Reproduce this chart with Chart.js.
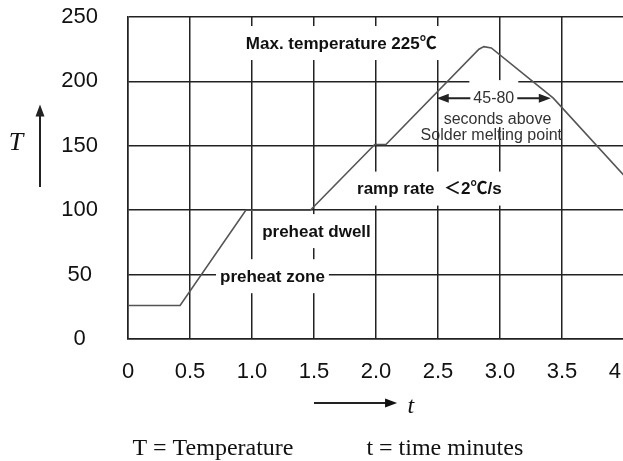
<!DOCTYPE html>
<html>
<head>
<meta charset="utf-8">
<script src="https://cdn.jsdelivr.net/npm/chart.js@4"></script>
<style>
  html, body { margin: 0; padding: 0; background: #fff; overflow: hidden; }
  #wrap { position: relative; width: 623px; height: 461px; overflow: hidden; }
  canvas { display: block; }
</style>
</head>
<body>
<div id="wrap"><canvas id="myChart" width="660" height="461"></canvas></div>
<script>
// reflow profile, values (t in minutes, T in degrees C)
const times = [0, 0.42, 0.95, 1.47, 1.99, 2.08, 2.83, 2.87, 2.93, 3.43, 4.0];
const temps = [26, 26, 100, 100, 151, 151, 225, 227, 226, 187, 127];

const xTickValues = [0, 0.5, 1, 1.5, 2, 2.5, 3, 3.5, 4];
const xTickLabels = ['0', '0.5', '1.0', '1.5', '2.0', '2.5', '3.0', '3.5', '4.0'];
const yTickValues = [0, 50, 100, 150, 200, 250];
const yTickLabels = ['0', '50', '100', '150', '200', '250'];

// notes inside the plot, anchored at (t, T)
const notes = [
  { text: 'Max. temperature 225℃', t: 1.72, T: 229, bold: true },
  { text: 'preheat dwell', t: 1.52, T: 83, bold: true },
  { text: 'preheat zone', t: 1.165, T: 48, bold: true },
  { text: 'ramp rate  ＜2℃/s', t: 2.43, T: 116, bold: true },
  { text: '45-80', t: 2.95, T: 187, boxed: true },
  { text: 'seconds above', t: 2.98, T: 170 },
  { text: 'Solder melting point', t: 2.93, T: 158 }
];
const holdFrom = 2.49, holdTo = 3.41, holdT = 187;   // 45-80 s arrow

const SANS = '"Liberation Sans", Arial, "Noto Sans CJK SC", sans-serif';
const SERIF = '"Liberation Serif", "Times New Roman", serif';

function arrowHead(ctx, x, y, dx, dy) {
  // filled head pointing along (dx, dy)
  const len = 12, half = 4.5;
  ctx.beginPath();
  ctx.moveTo(x, y);
  ctx.lineTo(x - dx * len - dy * half, y - dy * len + dx * half);
  ctx.lineTo(x - dx * len + dy * half, y - dy * len - dx * half);
  ctx.closePath();
  ctx.fill();
}

function noteFont(n) {
  return n.bold ? 'bold 17px ' + SANS : '16px ' + SANS;
}

const overlay = {
  id: 'overlay',
  beforeDatasetsDraw(chart) {
    // white patches behind the labels, they cut the grid
    const { ctx, scales: { x, y } } = chart;
    ctx.save();
    ctx.fillStyle = '#fff';
    notes.forEach(n => {
      if (!n.bold && !n.boxed) return;
      ctx.font = noteFont(n);
      const w = ctx.measureText(n.text).width;
      const cx = x.getPixelForValue(n.t), cy = y.getPixelForValue(n.T);
      const below = n.boxed ? 29 : 16;
      ctx.fillRect(cx - w / 2 - 4, cy - 18, w + 8, 18 + below);
    });
    ctx.restore();
  },
  afterDatasetsDraw(chart) {
    const { ctx, scales: { x, y }, chartArea } = chart;
    ctx.save();
    ctx.textAlign = 'center';
    ctx.textBaseline = 'middle';
    notes.forEach(n => {
      ctx.font = noteFont(n);
      ctx.fillStyle = n.bold ? '#111' : '#333';
      ctx.fillText(n.text, x.getPixelForValue(n.t), y.getPixelForValue(n.T));
    });

    // 45-80 arrows
    ctx.strokeStyle = '#222';
    ctx.fillStyle = '#222';
    ctx.lineWidth = 2;
    ctx.font = '16px ' + SANS;
    const mid = notes.find(n => n.text === '45-80');
    const half = ctx.measureText(mid.text).width / 2 + 3;
    const cx = x.getPixelForValue(mid.t), hy = y.getPixelForValue(holdT);
    const xl = x.getPixelForValue(holdFrom), xr = x.getPixelForValue(holdTo);
    ctx.beginPath();
    ctx.moveTo(cx - half, hy); ctx.lineTo(xl + 6, hy);
    ctx.moveTo(cx + half, hy); ctx.lineTo(xr - 6, hy);
    ctx.stroke();
    arrowHead(ctx, xl, hy, -1, 0);
    arrowHead(ctx, xr, hy, 1, 0);

    // T axis arrow and letter
    const ay0 = y.getPixelForValue(118), ay1 = y.getPixelForValue(182);
    ctx.beginPath();
    ctx.moveTo(40, ay0); ctx.lineTo(40, ay1 + 8);
    ctx.stroke();
    arrowHead(ctx, 40, ay1, 0, -1);
    ctx.font = 'italic 26px ' + SERIF;
    ctx.fillStyle = '#111';
    ctx.fillText('T', 16, y.getPixelForValue(152));

    // t axis arrow and letter
    const by = chartArea.bottom + 64;
    const bx0 = x.getPixelForValue(1.5), bx1 = x.getPixelForValue(2.17);
    ctx.beginPath();
    ctx.moveTo(bx0, by); ctx.lineTo(bx1 - 8, by);
    ctx.stroke();
    arrowHead(ctx, bx1, by, 1, 0);
    ctx.font = 'italic 24px ' + SERIF;
    ctx.textBaseline = 'alphabetic';
    ctx.fillText('t', x.getPixelForValue(2.28), by + 10);

    // legend line under the chart
    ctx.font = '24px ' + SERIF;
    ctx.fillText('T = Temperature', x.getPixelForValue(0.685), chart.height - 6);
    ctx.fillText('t = time minutes', x.getPixelForValue(2.555), chart.height - 6);
    ctx.restore();
  }
};

const ctx = document.getElementById('myChart').getContext('2d');
const myChart = new Chart(ctx, {
  type: 'scatter',
  data: {
    datasets: [{
      data: times.map((t, i) => ({ x: t, y: temps[i] })),
      showLine: true,
      borderColor: '#555',
      borderWidth: 1.6,
      pointRadius: 0,
      tension: 0
    }]
  },
  options: {
    responsive: false,
    animation: false,
    layout: { padding: { top: 17, right: 36, left: 0, bottom: 0 } },
    plugins: { legend: { display: false }, tooltip: { enabled: false } },
    scales: {
      x: {
        type: 'linear',
        min: 0,
        max: 4,
        afterBuildTicks: s => { s.ticks = xTickValues.map(v => ({ value: v })); },
        afterFit: s => { s.height = 122; },
        ticks: {
          callback: (v, i) => xTickLabels[i],
          color: '#111',
          font: { family: SANS, size: 22 },
          padding: 20,
          maxRotation: 0,
          autoSkip: false
        },
        grid: { color: '#222', lineWidth: 1.5, drawTicks: false },
        border: { color: '#222', width: 1.5 }
      },
      y: {
        min: 0,
        max: 250,
        afterBuildTicks: s => { s.ticks = yTickValues.map(v => ({ value: v })); },
        afterFit: s => {
          s.width = 128;
          // labels sit beside the axis, they need no room above or below
          s.paddingTop = 0;
          s.paddingBottom = 0;
        },
        ticks: {
          callback: (v, i) => yTickLabels[i],
          color: '#111',
          font: { family: SANS, size: 22 },
          crossAlign: 'center',
          padding: 30
        },
        grid: { color: '#222', lineWidth: 1.5, drawTicks: false },
        border: { color: '#222', width: 1.5 }
      }
    }
  },
  plugins: [overlay]
});
</script>
</body>
</html>
